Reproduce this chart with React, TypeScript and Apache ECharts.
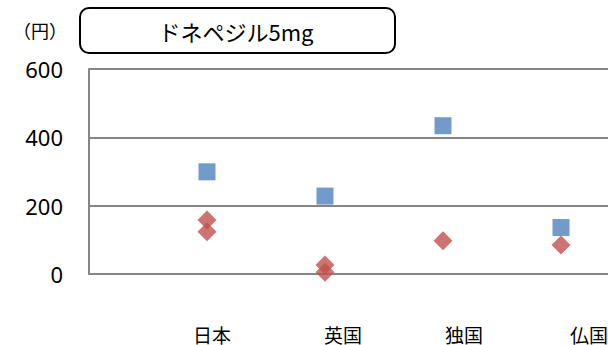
import React, { useEffect, useRef } from "react";
import * as echarts from "echarts";

const categories = ["日本", "英国", "独国", "仏国"];
const blueValues = [299, 228, 434, 136];
const redCategoryIndex = [0, 0, 1, 1, 2, 3];
const redValues = [158, 124, 26, 5, 97, 85];
const yTicks = [0, 200, 400, 600];
const titleText = "ドネペジル5mg";
const unitText = "（円）";
// horizontal shift of each category label relative to its marks (px)
const labelShift = [5, 18, 21, 28];

export default function App() {
  const ref = useRef<HTMLDivElement>(null);
  useEffect(() => {
    if (!ref.current) return;
    const chart = echarts.init(ref.current, null, { renderer: "svg" });
    const font = "'Noto Sans', 'Noto Sans CJK JP', sans-serif";
    const cjk = "'Noto Sans CJK JP', sans-serif";
    const rich: Record<string, any> = {};
    labelShift.forEach((s, i) => {
      rich["l" + i] = {
        fontSize: 19,
        lineHeight: 20,
        color: "#000",
        fontFamily: cjk,
        padding: [0, 0, 0, 2 * s],
      };
    });
    chart.setOption({
      animation: false,
      backgroundColor: "#fff",
      textStyle: { fontFamily: font },
      grid: {
        left: 89,
        top: 69,
        height: 205,
        right: 0,
        outerBoundsMode: "none",
        containLabel: false,
      },
      xAxis: {
        type: "value",
        min: 0,
        max: 519 / 118,
        interval: 1,
        axisLine: { show: true, lineStyle: { color: "#868686", width: 2 } },
        axisTick: { show: false },
        splitLine: { show: false },
        axisLabel: {
          margin: 50,
          fontSize: 19,
          lineHeight: 20,
          color: "#000",
          showMaxLabel: false,
          fontFamily: cjk,
          rich,
          formatter: (v: number) => {
            const i = Math.round(v) - 1;
            return categories[i] ? `{l${i}|${categories[i]}}` : "";
          },
        },
      },
      yAxis: {
        type: "value",
        min: yTicks[0],
        max: yTicks[yTicks.length - 1],
        interval: 200,
        axisLine: { show: true, lineStyle: { color: "#868686", width: 2 } },
        axisTick: { show: false },
        splitLine: { show: true, lineStyle: { color: "#868686", width: 2 } },
        axisLabel: { margin: 26, fontSize: 22, color: "#000", fontFamily: font },
      },
      series: [
        {
          type: "scatter",
          symbol: "rect",
          symbolSize: 17,
          itemStyle: { color: "#4F81BD" },
          data: blueValues.map((v, i) => [i + 1, v]),
        },
        {
          type: "scatter",
          symbol: "diamond",
          symbolSize: [19, 19],
          itemStyle: { color: "#C0504D" },
          data: redValues.map((v, i) => [redCategoryIndex[i] + 1, v]),
        },
      ],
      graphic: [
        {
          type: "rect",
          shape: { x: 80, y: 8, width: 315, height: 45, r: 9 },
          style: { fill: "#fff", stroke: "#000", lineWidth: 2 },
        },
        {
          type: "text",
          x: 236,
          y: 31,
          style: {
            text: titleText,
            fontSize: 22,
            fill: "#000",
            fontFamily: cjk,
            align: "center",
            verticalAlign: "middle",
          },
        },
        {
          type: "text",
          x: 40,
          y: 30,
          style: {
            text: unitText,
            fontSize: 18,
            fill: "#000",
            fontFamily: cjk,
            align: "center",
            verticalAlign: "middle",
          },
        },
      ],
    });
    return () => chart.dispose();
  }, []);
  return (
    <div
      ref={ref}
      style={{ position: "fixed", left: 0, top: 0, width: 608, height: 345 }}
    />
  );
}
